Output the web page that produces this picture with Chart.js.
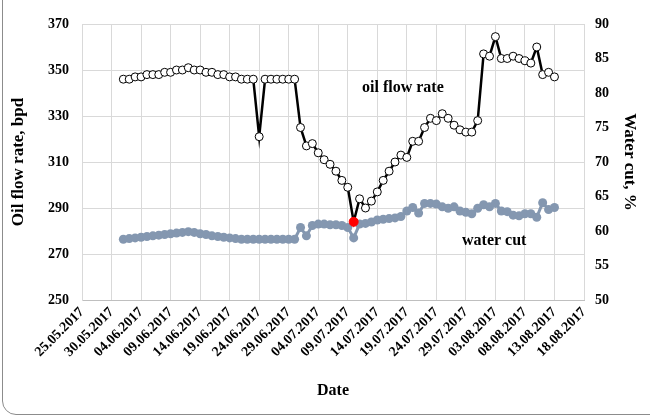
<!DOCTYPE html>
<html>
<head>
<meta charset="utf-8">
<script src="https://cdn.jsdelivr.net/npm/chart.js@4.4.1/dist/chart.umd.min.js"></script>
<style>
  html, body { margin: 0; padding: 0; background: #fff; }
  #wrap { position: relative; width: 650px; height: 420px; overflow: hidden; }
  #frame { position: absolute; left: 2px; top: -30px; width: 700px; height: 445px;
           border: 1px solid #8c8c8c; border-radius: 14px; box-sizing: border-box; }
  canvas { position: absolute; left: 0; top: 0; }
</style>
</head>
<body>
<div id="wrap">
  <div id="frame"></div>
  <canvas id="c" width="650" height="420"></canvas>
</div>
<script>
// ---- data ----
const startDate = "25.05.2017";
const tickLabels = ["25.05.2017","30.05.2017","04.06.2017","09.06.2017","14.06.2017","19.06.2017",
  "24.06.2017","29.06.2017","04.07.2017","09.07.2017","14.07.2017","19.07.2017","24.07.2017",
  "29.07.2017","03.08.2017","08.08.2017","13.08.2017","18.08.2017"];

const dates = [
  "01.06.2017","02.06.2017","03.06.2017","04.06.2017","05.06.2017","06.06.2017","07.06.2017","08.06.2017","09.06.2017","10.06.2017",
  "11.06.2017","12.06.2017","13.06.2017","14.06.2017","15.06.2017","16.06.2017","17.06.2017","18.06.2017","19.06.2017","20.06.2017",
  "21.06.2017","22.06.2017","23.06.2017","24.06.2017","25.06.2017","26.06.2017","27.06.2017","28.06.2017","29.06.2017","30.06.2017",
  "01.07.2017","02.07.2017","03.07.2017","04.07.2017","05.07.2017","06.07.2017","07.07.2017","08.07.2017","09.07.2017","10.07.2017",
  "11.07.2017","12.07.2017","13.07.2017","14.07.2017","15.07.2017","16.07.2017","17.07.2017","18.07.2017","19.07.2017","20.07.2017",
  "21.07.2017","22.07.2017","23.07.2017","24.07.2017","25.07.2017","26.07.2017","27.07.2017","28.07.2017","29.07.2017","30.07.2017",
  "31.07.2017","01.08.2017","02.08.2017","03.08.2017","04.08.2017","05.08.2017","06.08.2017","07.08.2017","08.08.2017","09.08.2017",
  "10.08.2017","11.08.2017","12.08.2017","13.08.2017"];

const oilRate = [
  346,346,347,347,348,348,348,349,349,350,
  350,351,350,350,349,349,348,348,347,347,
  346,346,346,321,346,346,346,346,346,346,
  325,317,318,314,311,309,306,302,299,284,
  294,290,293,297,302,306,310,313,312,319,
  319,325,329,328,331,329,326,324,323,323,
  328,357,356,364.5,355,355,356,355,354,353,
  360,348,349,347];

const waterCut = [
  58.8,58.9,59.0,59.1,59.2,59.3,59.4,59.5,59.6,59.7,
  59.8,59.9,59.8,59.6,59.5,59.3,59.2,59.1,59.0,58.9,
  58.8,58.8,58.8,58.8,58.8,58.8,58.8,58.8,58.8,58.8,
  60.5,59.3,60.8,61.0,61.0,60.9,60.9,60.8,60.5,59.0,
  61.0,61.1,61.3,61.6,61.7,61.8,61.9,62.1,62.9,63.4,
  62.6,64.0,64.0,63.9,63.5,63.3,63.5,62.9,62.7,62.5,
  63.3,63.8,63.5,64.0,62.9,62.8,62.3,62.2,62.5,62.5,
  62.0,64.1,63.1,63.4];

const highlightDate = "10.07.2017";

// ---- helpers ----
function toDay(s) {
  const [d, m, y] = s.split(".").map(Number);
  return Date.UTC(y, m - 1, d) / 86400000;
}
const day0 = toDay(startDate);
const xs = dates.map(d => toDay(d) - day0);
const oilPoints = oilRate.map((v, i) => ({ x: xs[i], y: v }));
const wcPoints = waterCut.map((v, i) => ({ x: xs[i], y: v }));
const oilFill = dates.map(d => d === highlightDate ? "#ff0000" : "#ffffff");
const oilBorder = dates.map(d => d === highlightDate ? "#ff0000" : "#000000");
const oilRadius = dates.map(d => d === highlightDate ? 4.5 : 4);

const FONT = "'Liberation Serif', 'Times New Roman', serif";

const labelsPlugin = {
  id: "labelsPlugin",
  afterDatasetsDraw(chart) {
    const ctx = chart.ctx;
    ctx.save();
    ctx.fillStyle = "#000";
    ctx.font = "bold 16px " + FONT;
    ctx.textBaseline = "alphabetic";
    ctx.textAlign = "left";
    ctx.fillText("oil flow rate", 362, 92);
    ctx.fillText("water cut", 462, 245);
    ctx.restore();
  }
};

new Chart(document.getElementById("c"), {
  type: "line",
  data: {
    datasets: [
      {
        label: "oil flow rate",
        data: oilPoints,
        yAxisID: "y",
        borderColor: "#000000",
        borderWidth: 2.5,
        pointBackgroundColor: oilFill,
        pointBorderColor: oilBorder,
        pointBorderWidth: 1,
        pointRadius: oilRadius,
        tension: 0
      },
      {
        label: "water cut",
        data: wcPoints,
        yAxisID: "y1",
        borderColor: "#8497b0",
        borderWidth: 3,
        pointBackgroundColor: "#8497b0",
        pointBorderColor: "#8497b0",
        pointBorderWidth: 0,
        pointRadius: 4.5,
        tension: 0
      }
    ]
  },
  options: {
    responsive: false,
    animation: false,
    devicePixelRatio: 1,
    layout: { padding: { left: 8, right: 4, top: 24, bottom: 4 } },
    plugins: { legend: { display: false }, tooltip: { enabled: false } },
    scales: {
      x: {
        type: "linear",
        min: 0, max: 85,
        afterBuildTicks(scale) { scale.ticks = tickLabels.map((l, i) => ({ value: i * 5 })); },
        afterFit(scale) { scale.height = 116; },
        ticks: {
          autoSkip: false,
          maxRotation: 45, minRotation: 45,
          padding: 4,
          color: "#000",
          font: { family: FONT, size: 14, weight: "bold" },
          callback: (v, i) => tickLabels[i]
        },
        grid: { color: "#d9d9d9", lineWidth: 1, drawTicks: false },
        border: { color: "#bfbfbf" },
        title: { display: true, text: "Date", color: "#000",
                 font: { family: FONT, size: 16, weight: "bold" }, padding: { top: 2, bottom: 16 } }
      },
      y: {
        position: "left",
        min: 250, max: 370,
        afterBuildTicks(scale) { const t = []; for (let v = 250; v <= 370; v += 20) t.push({ value: v }); scale.ticks = t; },
        afterFit(scale) { scale.width = 74; },
        ticks: { color: "#000", padding: 13, font: { family: FONT, size: 14, weight: "bold" } },
        grid: { color: "#d9d9d9", drawTicks: false },
        border: { color: "#d9d9d9" },
        title: { display: true, text: "Oil flow rate, bpd", color: "#000",
                 font: { family: FONT, size: 17, weight: "bold" }, padding: { top: 0, bottom: 8 } }
      },
      y1: {
        position: "right",
        min: 50, max: 90,
        afterBuildTicks(scale) { const t = []; for (let v = 50; v <= 90; v += 5) t.push({ value: v }); scale.ticks = t; },
        afterFit(scale) { scale.width = 62; },
        ticks: { color: "#000", padding: 11, font: { family: FONT, size: 14, weight: "bold" } },
        grid: { drawOnChartArea: false, drawTicks: false },
        border: { display: false },
        title: { display: true, text: "Water cut, %", color: "#000",
                 font: { family: FONT, size: 17, weight: "bold" }, padding: { top: 6, bottom: 0 } }
      }
    }
  },
  plugins: [labelsPlugin]
});
</script>
</body>
</html>
